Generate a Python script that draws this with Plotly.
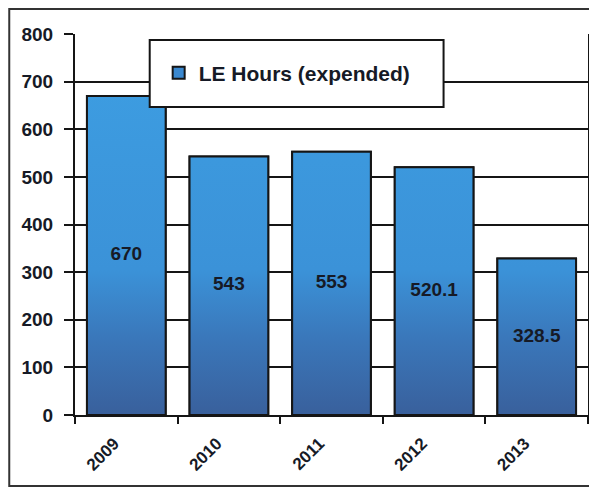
import plotly.graph_objects as go

# LE hours expended per year
years = ["2009", "2010", "2011", "2012", "2013"]
hours = [670, 543, 553, 520.1, 328.5]
hour_labels = ["670", "543", "553", "520.1", "328.5"]
y_ticks = [0, 100, 200, 300, 400, 500, 600, 700, 800]

# the page body adds an 8px margin, so the figure is sized to fit inside it
W, H = 589, 482
ML, MR, MT, MB = 67, 7, 26, 75
pw, ph = W - ML - MR, H - MT - MB
BAR_W = 0.767
DARK = "#151515"
TEXT = "#161a26"
FONT = "Liberation Sans, Arial"


def px_x(x):
    return (x - ML) / pw


def px_y(y):
    return (H - MB - y) / ph


pos = list(range(len(years)))

# plain bars (legend entry and geometry), covered by gradient-filled outlines
fig = go.Figure(go.Bar(
    x=pos, y=hours, width=BAR_W,
    name="LE Hours (expended)",
    marker=dict(color="#3a88cf", line=dict(color=DARK, width=2)),
    hoverinfo="skip",
))

xs, ys = [], []
half = BAR_W / 2
for p, v in zip(pos, hours):
    xs += [p - half, p - half, p + half, p + half, p - half, None]
    ys += [0, v, v, 0, 0, None]

fig.add_trace(go.Scatter(
    x=xs, y=ys, mode="lines", fill="toself",
    line=dict(color=DARK, width=2),
    fillgradient=dict(
        type="vertical", start=0, stop=800,
        colorscale=[[0, "#39609c"], [0.2, "#3a77ba"], [0.38, "#3b92d8"], [1, "#3d9fe3"]],
    ),
    showlegend=False, hoverinfo="skip",
))

fig.add_trace(go.Scatter(
    x=pos, y=[v / 2 for v in hours], mode="text", text=hour_labels,
    textfont=dict(family=FONT, size=19, color=TEXT, weight="bold"),
    showlegend=False, hoverinfo="skip",
))

# legend box
fig.add_shape(type="rect", xref="paper", yref="paper",
              x0=px_x(142), x1=px_x(437), y0=px_y(32), y1=px_y(99),
              fillcolor="white", line=dict(color=DARK, width=2), layer="above")

# outer frame (right side runs off the page)
fig.add_shape(type="rect", xref="paper", yref="paper",
              x0=px_x(1), x1=px_x(W + 6), y0=px_y(1), y1=px_y(478),
              fillcolor="rgba(0,0,0,0)", line=dict(color="#333333", width=2), layer="above")

fig.update_layout(
    width=W, height=H,
    margin=dict(l=ML, r=MR, t=MT, b=MB),
    paper_bgcolor="white",
    plot_bgcolor="white",
    showlegend=True,
    legend=dict(
        x=px_x(151), y=px_y(65), xanchor="left", yanchor="middle",
        bgcolor="rgba(0,0,0,0)", borderwidth=0,
        font=dict(family=FONT, size=21, color=TEXT, weight="bold"),
    ),
    font=dict(family=FONT, color=TEXT),
)

fig.update_yaxes(
    range=[0, 800], tickvals=y_ticks,
    showgrid=True, gridcolor=DARK, gridwidth=2,
    showline=True, linecolor=DARK, linewidth=2, mirror=True,
    ticks="outside", ticklen=9, tickwidth=2, tickcolor=DARK,
    ticklabelstandoff=7,
    tickfont=dict(size=19, color=TEXT, weight="bold"),
    zeroline=False,
)
fig.update_xaxes(
    range=[-0.5, len(years) - 0.5],
    tickvals=pos, ticktext=years,
    showgrid=False, zeroline=False,
    showline=True, linecolor=DARK, linewidth=2,
    ticks="",
    minor=dict(tickmode="array", tickvals=[p - 0.5 for p in pos] + [pos[-1] + 0.5],
               ticks="outside", ticklen=7, tickwidth=2, tickcolor=DARK, showgrid=False),
    tickangle=-45,
    ticklabelstandoff=10,
    ticklabelshift=-12,
    tickfont=dict(size=17, color=TEXT, weight="bold"),
)

fig.write_html("out.html")
